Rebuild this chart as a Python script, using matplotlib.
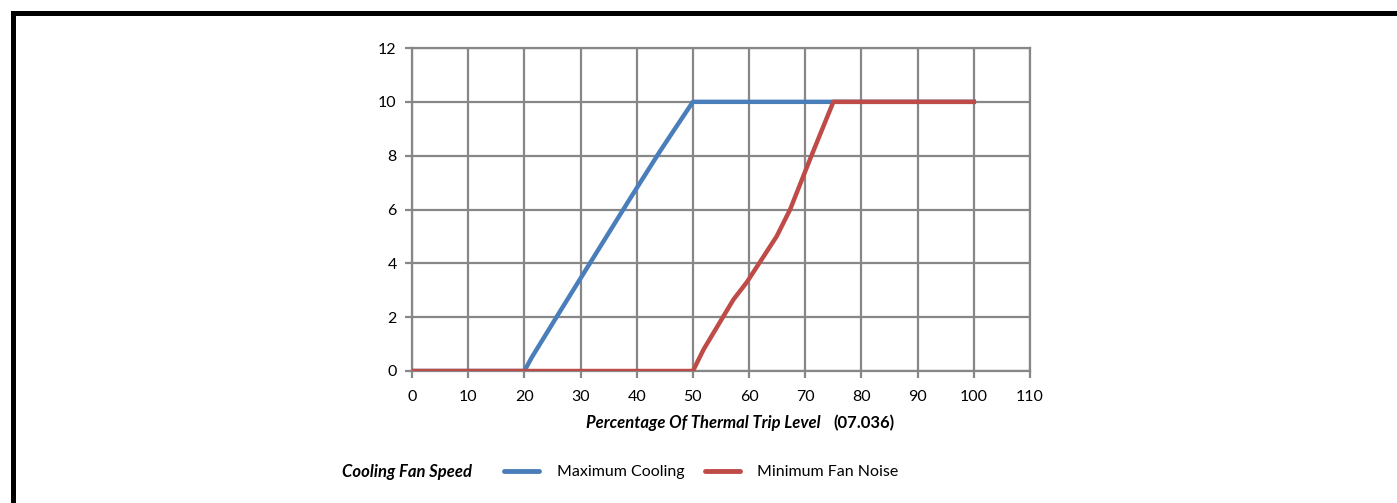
import matplotlib
matplotlib.use("Agg")
import matplotlib.pyplot as plt
from matplotlib.lines import Line2D

# Fan speed profiles versus percentage of thermal trip level
max_cooling_x = [0, 20, 21.3, 26.6, 38.8, 44.1, 46.8, 50, 75, 100]
max_cooling_y = [0, 0, 0.5, 2.3, 6.4, 8.15, 9.0, 10, 10, 10]
min_noise_x = [0, 50, 51.9, 57.2, 59.6, 64.9, 67.3, 71.1, 75, 100]
min_noise_y = [0, 0, 0.8, 2.65, 3.3, 5.0, 6.0, 8.0, 10, 10]

x_ticks = [0, 10, 20, 30, 40, 50, 60, 70, 80, 90, 100, 110]
y_ticks = [0, 2, 4, 6, 8, 10, 12]

blue = "#4a7ebb"
red = "#be4b48"
grid_grey = "#878787"
fs = 11.5
fs_title = 12

plt.rcParams["font.family"] = ["Lato", "DejaVu Sans"]

W, H = 1397, 503
fig = plt.figure(figsize=(W / 100, H / 100), dpi=100)
ax = fig.add_axes([412 / W, 1 - 371 / H, (1030 - 412) / W, (371 - 48) / H])

ax.plot(max_cooling_x, max_cooling_y, color=blue, lw=3.2, solid_joinstyle="round", zorder=3)
ax.plot(min_noise_x, min_noise_y, color=red, lw=3.2, solid_joinstyle="round", zorder=4)

ax.set_xlim(0, 110)
ax.set_ylim(0, 12)
ax.set_xticks(x_ticks)
ax.set_yticks(y_ticks)
ax.grid(True, color=grid_grey, lw=1.6)
ax.set_axisbelow(True)
for s in ax.spines.values():
    s.set_color(grid_grey)
    s.set_linewidth(1.6)
ax.tick_params(axis="both", colors=grid_grey, width=1.6, length=5, labelcolor="black",
               labelsize=fs)
ax.tick_params(axis="x", pad=9)
ax.tick_params(axis="y", pad=6)

# Axis title: italic description followed by the parameter number
fig.text(586 / W, 1 - 423 / H, "Percentage Of Thermal Trip Level", ha="left", va="center",
         fontsize=fs_title, fontweight="bold", fontstyle="italic")
fig.text(833 / W, 1 - 423 / H, "(07.036)", ha="left", va="center",
         fontsize=fs_title, fontweight="bold")

# Legend row
ly = 1 - 471 / H
fig.text(342 / W, 1 - 472 / H, "Cooling Fan Speed", ha="left", va="center",
         fontsize=fs_title, fontweight="bold", fontstyle="italic")
fig.add_artist(Line2D([504 / W, 539 / W], [ly] * 2, color=blue, lw=3.5,
                      solid_capstyle="round"))
fig.text(557 / W, 1 - 472 / H, "Maximum Cooling", ha="left", va="center", fontsize=fs)
fig.add_artist(Line2D([705 / W, 740 / W], [ly] * 2, color=red, lw=3.5,
                      solid_capstyle="round"))
fig.text(757 / W, 1 - 472 / H, "Minimum Fan Noise", ha="left", va="center", fontsize=fs)

# Heavy border along the top and left edges
fig.add_artist(Line2D([12.5 / W, 12.5 / W, 1.0], [0, 1 - 12.5 / H, 1 - 12.5 / H],
                      color="black", lw=3.6, solid_joinstyle="miter"))

fig.savefig("out.png", dpi=100)
